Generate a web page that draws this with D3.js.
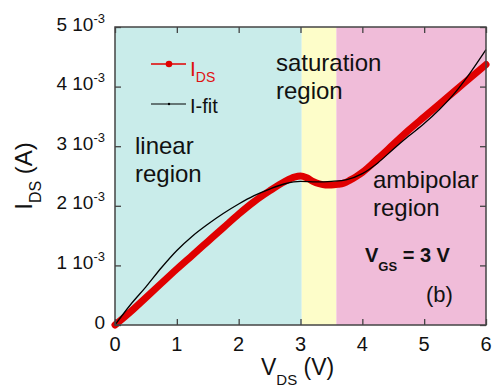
<!DOCTYPE html>
<html>
<head>
<meta charset="utf-8">
<script src="https://cdn.jsdelivr.net/npm/d3@7"></script>
<style>
  body { margin: 0; background: #fff; }
  svg { font-family: "Liberation Sans", Arial, sans-serif; }
</style>
</head>
<body>
<svg id="chart" width="495" height="388"></svg>
<script>
// Measured I-V curve (I_DS in units of 1e-3 A)
const vds = [0, 0.25, 0.5, 0.75, 1, 1.25, 1.5, 1.75, 2, 2.25, 2.5, 2.75, 2.9, 3.0, 3.1, 3.2, 3.3, 3.4, 3.5, 3.6, 3.7, 3.8, 3.9, 4.0, 4.25, 4.5, 4.75, 5, 5.25, 5.5, 5.75, 6];
const ids = [0, 0.22, 0.46, 0.70, 0.94, 1.17, 1.40, 1.63, 1.86, 2.07, 2.25, 2.41, 2.48, 2.50, 2.47, 2.41, 2.37, 2.35, 2.35, 2.36, 2.38, 2.43, 2.49, 2.56, 2.79, 3.03, 3.27, 3.49, 3.71, 3.93, 4.15, 4.37];

// Fitted curve
const vfit = [0, 0.25, 0.5, 0.75, 1, 1.25, 1.5, 1.75, 2, 2.25, 2.5, 2.75, 3.0, 3.25, 3.5, 3.75, 4.0, 4.25, 4.5, 4.75, 5.0, 5.25, 5.5, 5.75, 6.0];
const ifit = [0, 0.34, 0.64, 0.96, 1.25, 1.49, 1.69, 1.87, 2.03, 2.17, 2.28, 2.37, 2.41, 2.40, 2.41, 2.44, 2.54, 2.72, 2.95, 3.17, 3.38, 3.62, 3.90, 4.24, 4.62];

// Operating regions (V_DS ranges)
const regionNames = ["linear", "saturation", "ambipolar"];
const regionEdges = [0, 3.02, 3.58, 6];
const regionColors = ["#c9ecea", "#fdfdc9", "#f0bcd9"];

const xTicks = [0, 1, 2, 3, 4, 5, 6];
const yTicks = [0, 1, 2, 3, 4, 5];

const svg = d3.select("#chart");
const pLeft = 115, pRight = 486, pTop = 27, pBottom = 325;

const x = d3.scaleLinear().domain([0, 6]).range([pLeft, pRight]);
const y = d3.scaleLinear().domain([0, 5]).range([pBottom, pTop]);

// Region backgrounds
svg.append("g")
  .selectAll("rect")
  .data(regionNames)
  .enter()
  .append("rect")
  .attr("x", (d, i) => x(regionEdges[i]))
  .attr("y", pTop)
  .attr("width", (d, i) => x(regionEdges[i + 1]) - x(regionEdges[i]))
  .attr("height", pBottom - pTop)
  .attr("fill", (d, i) => regionColors[i]);

// Curves
const redLine = d3.line()
  .x((d, i) => x(vds[i]))
  .y((d) => y(d))
  .curve(d3.curveMonotoneX);

const fitLine = d3.line()
  .x((d, i) => x(vfit[i]))
  .y((d) => y(d))
  .curve(d3.curveMonotoneX);

svg.append("path")
  .attr("d", redLine(ids))
  .attr("fill", "none")
  .attr("stroke", "#e00000")
  .attr("stroke-width", 7)
  .attr("stroke-linecap", "round")
  .attr("stroke-linejoin", "round");

svg.append("path")
  .attr("d", fitLine(ifit))
  .attr("fill", "none")
  .attr("stroke", "#000")
  .attr("stroke-width", 1.3);

// Axes (ticks pointing inward on all four sides)
const frameColor = "#444";
const tl = 6;

svg.append("g")
  .attr("transform", `translate(0,${pBottom})`)
  .call(d3.axisBottom(x).tickValues(xTicks).tickSize(-tl).tickFormat(""))
  .call((g) => g.select(".domain").remove());
svg.append("g")
  .attr("transform", `translate(0,${pTop})`)
  .call(d3.axisTop(x).tickValues(xTicks).tickSize(-tl).tickFormat(""))
  .call((g) => g.select(".domain").remove());
svg.append("g")
  .attr("transform", `translate(${pLeft},0)`)
  .call(d3.axisLeft(y).tickValues(yTicks).tickSize(-tl).tickFormat(""))
  .call((g) => g.select(".domain").remove());
svg.append("g")
  .attr("transform", `translate(${pRight},0)`)
  .call(d3.axisRight(y).tickValues(yTicks).tickSize(-tl).tickFormat(""))
  .call((g) => g.select(".domain").remove());

svg.selectAll(".tick line").attr("stroke", frameColor).attr("stroke-width", 1.3);

svg.append("rect")
  .attr("x", pLeft)
  .attr("y", pTop)
  .attr("width", pRight - pLeft)
  .attr("height", pBottom - pTop)
  .attr("fill", "none")
  .attr("stroke", frameColor)
  .attr("stroke-width", 1.5);

// Tick labels
svg.append("g")
  .selectAll("text")
  .data(xTicks)
  .enter()
  .append("text")
  .attr("x", (d) => x(d))
  .attr("y", 351)
  .attr("text-anchor", "middle")
  .attr("font-size", 20)
  .attr("fill", "#111")
  .text((d) => d);

const yLab = svg.append("g")
  .selectAll("text")
  .data(yTicks)
  .enter()
  .append("text")
  .attr("x", 105)
  .attr("y", (d) => y(d) + 3.5)
  .attr("text-anchor", "end")
  .attr("font-size", 19)
  .attr("fill", "#111");
yLab.filter((d) => d === 0).text("0");
yLab.filter((d) => d !== 0).each(function (d) {
  const t = d3.select(this);
  t.append("tspan").text(d + " 10");
  t.append("tspan").attr("font-size", 13).attr("dy", -8).text("-3");
});

// Axis titles
const xt = svg.append("text")
  .attr("x", 261)
  .attr("y", 375)
  .attr("font-size", 23)
  .attr("fill", "#111");
xt.append("tspan").text("V");
xt.append("tspan").attr("font-size", 15).attr("dy", 10).text("DS");
xt.append("tspan").attr("dy", -10).text(" (V)");

const yt = svg.append("text")
  .attr("transform", `translate(32,${(pTop + pBottom) / 2}) rotate(-90)`)
  .attr("text-anchor", "middle")
  .attr("font-size", 24)
  .attr("fill", "#111");
yt.append("tspan").text("I");
yt.append("tspan").attr("font-size", 16).attr("dy", 9).text("DS");
yt.append("tspan").attr("dy", -9).text(" (A)");

// Legend
const lg = svg.append("g");
lg.append("line")
  .attr("x1", 151).attr("x2", 186).attr("y1", 64).attr("y2", 64)
  .attr("stroke", "#e00000").attr("stroke-width", 1.3);
lg.append("circle")
  .attr("cx", 169).attr("cy", 64).attr("r", 3.3)
  .attr("fill", "#e00000");
const l1 = lg.append("text")
  .attr("x", 190).attr("y", 76)
  .attr("font-size", 21)
  .attr("fill", "#e01010");
l1.append("tspan").text("I");
l1.append("tspan").attr("font-size", 14).attr("dy", 6).text("DS");

lg.append("line")
  .attr("x1", 151).attr("x2", 186).attr("y1", 104).attr("y2", 104)
  .attr("stroke", "#000").attr("stroke-width", 1.1);
lg.append("circle")
  .attr("cx", 169).attr("cy", 104).attr("r", 1.2)
  .attr("fill", "#000");
lg.append("text")
  .attr("x", 190).attr("y", 112.5)
  .attr("font-size", 20)
  .attr("fill", "#111")
  .text("I-fit");

// Region labels
const regionLabels = [
  { lines: ["linear", "region"], x: 135, y: 154 },
  { lines: ["saturation", "region"], x: 276, y: 71 },
  { lines: ["ambipolar", "region"], x: 373, y: 188 },
];
regionLabels.forEach((r) => {
  r.lines.forEach((s, j) => {
    svg.append("text")
      .attr("x", r.x)
      .attr("y", r.y + j * 27.5)
      .attr("font-size", 24)
      .attr("fill", "#111")
      .text(s);
  });
});

// Gate voltage annotation
const vg = svg.append("text")
  .attr("x", 365).attr("y", 262)
  .attr("font-size", 20)
  .attr("font-weight", "bold")
  .attr("fill", "#111");
vg.append("tspan").text("V");
vg.append("tspan").attr("font-size", 13).attr("dy", 9).text("GS");
vg.append("tspan").attr("dy", -9).text(" = 3 V");

svg.append("text")
  .attr("x", 426).attr("y", 302)
  .attr("font-size", 22)
  .attr("fill", "#111")
  .text("(b)");
</script>
</body>
</html>
